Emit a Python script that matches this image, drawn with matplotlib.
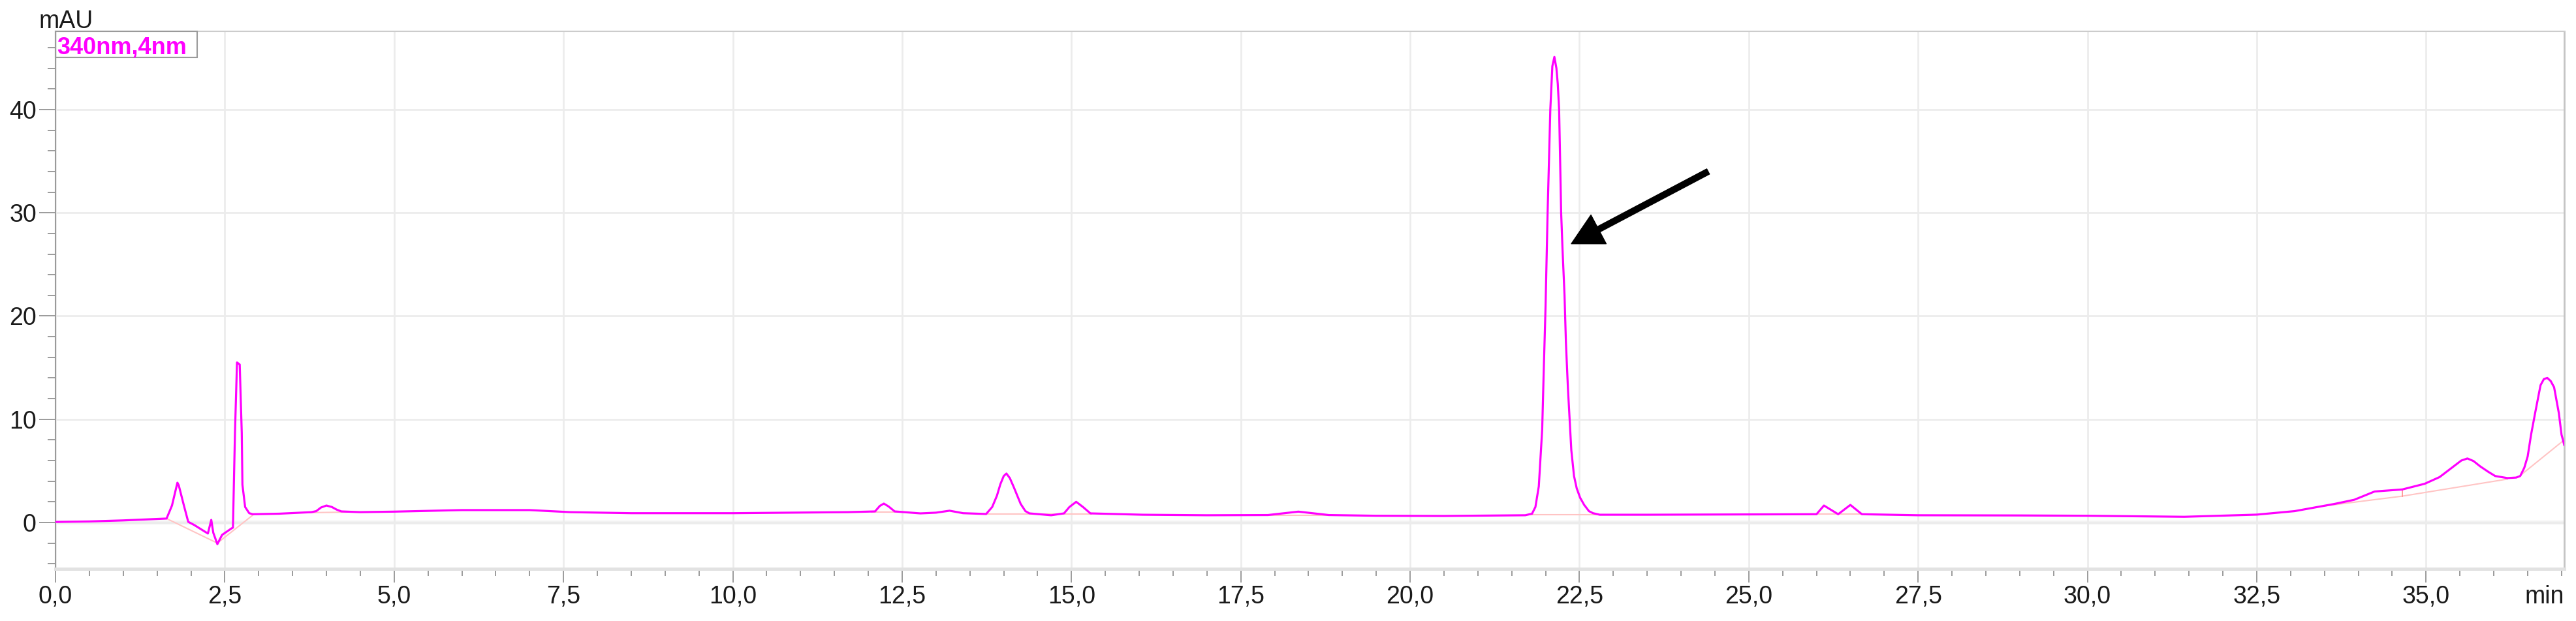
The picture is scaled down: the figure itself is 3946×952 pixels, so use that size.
import matplotlib.pyplot as plt
from matplotlib.patches import Rectangle
from matplotlib.ticker import MultipleLocator, FuncFormatter

plt.rcParams['font.family'] = ['Liberation Sans', 'DejaVu Sans']

# retention time (min) and signal (mAU)
t = [0.0, 0.5, 1.0, 1.64, 1.72, 1.80, 1.82, 1.90, 1.96, 2.05, 2.25, 2.30, 2.33, 2.39,
     2.46, 2.60, 2.62, 2.65, 2.68, 2.72, 2.75, 2.76, 2.80, 2.86, 2.91, 3.3, 3.78, 3.85,
     3.92, 4.0, 4.08, 4.15, 4.22, 4.5, 5.0, 6.0, 7.0, 7.6, 8.5, 10.0, 11.7, 12.10, 12.17,
     12.23, 12.30, 12.39, 12.77, 13.0, 13.2, 13.4, 13.74, 13.83, 13.90, 13.95, 14.00,
     14.04, 14.09, 14.15, 14.25, 14.32, 14.38, 14.7, 14.89, 14.97, 15.07, 15.17, 15.28,
     16.05, 17.0, 17.9, 18.35, 18.8, 19.5, 20.5, 21.70, 21.80, 21.85, 21.90, 21.95,
     21.97, 22.00, 22.03, 22.05, 22.07, 22.10, 22.13, 22.16, 22.18, 22.20, 22.23, 22.25,
     22.28, 22.30, 22.33, 22.38, 22.42, 22.46, 22.51, 22.57, 22.64, 22.70, 22.80, 23.5,
     25.0, 26.0, 26.11, 26.32, 26.50, 26.67, 27.5, 29.0, 30.0, 31.43, 32.5, 33.06,
     33.65, 33.94, 34.24, 34.65, 34.98, 35.2, 35.32, 35.43, 35.52, 35.61, 35.70, 35.80,
     35.92, 36.02, 36.2, 36.33, 36.39, 36.45, 36.5, 36.55, 36.61, 36.69, 36.74, 36.79,
     36.84, 36.89, 36.96, 37.0, 37.04]
mau = [0.05, 0.1, 0.2, 0.38, 1.64, 3.85, 3.6, 1.54, 0.06, -0.25, -1.07, 0.25, -1.0, -2.1,
       -1.2, -0.57, -0.5, 8.7, 15.5, 15.3, 8.7, 3.66, 1.5, 0.9, 0.8, 0.85, 1.0, 1.1,
       1.45, 1.64, 1.5, 1.25, 1.07, 1.0, 1.05, 1.2, 1.2, 1.0, 0.9, 0.9, 1.0, 1.07, 1.6,
       1.83, 1.55, 1.07, 0.88, 0.95, 1.14, 0.9, 0.82, 1.5, 2.6, 3.7, 4.5,
       4.74, 4.3, 3.4, 1.8, 1.1, 0.88, 0.7, 0.88, 1.5, 2.0, 1.5, 0.88,
       0.75, 0.7, 0.72, 1.05, 0.72, 0.65, 0.63, 0.7, 0.85, 1.5, 3.5, 9.0,
       14.0, 21.0, 30.0, 35.0, 40.0, 44.2, 45.1, 44.0, 42.5, 40.0, 30.0, 26.5,
       22.0, 17.5, 13.0, 7.0, 4.5, 3.3, 2.4, 1.7, 1.1, 0.9, 0.75, 0.75,
       0.78, 0.8, 1.64, 0.8, 1.7, 0.8, 0.7, 0.68, 0.65, 0.55, 0.76, 1.1,
       1.8, 2.2, 3.0, 3.2, 3.75, 4.4, 5.0, 5.55, 6.0, 6.2, 5.95, 5.43,
       4.9, 4.5, 4.3, 4.35, 4.5, 5.3, 6.4, 8.5, 10.6, 13.3, 13.9, 14.0,
       13.7, 13.1, 10.6, 8.5, 7.5]

# integration baselines (pink)
base_t = [[1.64, 2.39, 2.93], [3.75, 4.3], [12.05, 12.45], [13.7, 15.3],
          [17.9, 18.8], [21.78, 22.85], [26.0, 26.67], [33.5, 34.65, 36.2], [36.4, 37.04]]
base_y = [[0.38, -2.0, 0.8], [0.95, 1.0], [1.0, 1.0], [0.8, 0.8],
          [0.72, 0.72], [0.75, 0.75], [0.8, 0.8], [1.6, 2.55, 4.2], [4.6, 8.0]]
drop_t = [34.65, 34.65]
drop_y = [2.55, 3.2]

arrow_tip = (22.38, 27.0)
arrow_tail = (24.40, 34.0)

fig = plt.figure(figsize=(39.46, 9.52), dpi=100)
ax = fig.add_axes([0.02154, 0.08403, 0.97390, 0.86555])

ax.axhline(0, color='#f2f2f2', lw=4.3, zorder=0.5)
for bt, by in zip(base_t, base_y):
    ax.plot(bt, by, color='#ffc4c4', lw=1.5, zorder=2)
ax.plot(drop_t, drop_y, color='#ff8a8a', lw=1.2, zorder=2)
ax.plot(t, mau, color='#ff00ff', lw=2.3, zorder=3, solid_joinstyle='round')

ax.annotate('', xy=arrow_tip, xytext=arrow_tail,
            arrowprops=dict(facecolor='black', edgecolor='black', width=6.5,
                            headwidth=36, headlength=34, shrink=0))

ax.set_xlim(0, 37.04)
ax.set_ylim(-4.49, 47.58)

ax.xaxis.set_major_locator(MultipleLocator(2.5))
ax.xaxis.set_minor_locator(MultipleLocator(0.5))
ax.yaxis.set_major_locator(MultipleLocator(10))
ax.yaxis.set_minor_locator(MultipleLocator(2))
ax.xaxis.set_major_formatter(FuncFormatter(lambda v, p: '' if v > 35.1 else ('%.1f' % v).replace('.', ',')))
ax.yaxis.set_major_formatter(FuncFormatter(lambda v, p: '%d' % v))

ax.grid(True, which='major', color='#ececec', lw=2)
ax.set_axisbelow(True)

ax.tick_params(axis='x', which='major', length=15, width=1.2, color='#8a8a8a', labelsize=27, pad=3, labelcolor='#1a1a1a')
ax.tick_params(axis='x', which='minor', length=8, width=1.2, color='#8a8a8a')
ax.tick_params(axis='y', which='major', length=18, width=1.2, color='#8a8a8a', labelsize=27, pad=3, labelcolor='#1a1a1a')
ax.tick_params(axis='y', which='minor', length=9, width=1.2, color='#8a8a8a')

ax.spines['bottom'].set_color('#e2e2e2')
ax.spines['bottom'].set_linewidth(3.6)
ax.spines['left'].set_color('#9a9a9a')
ax.spines['left'].set_linewidth(1.5)
ax.spines['top'].set_color('#cccccc')
ax.spines['top'].set_linewidth(1.5)
ax.spines['right'].set_color('#c4c4c4')
ax.spines['right'].set_linewidth(2)

ax.add_patch(Rectangle((0.0, 0.9515), 0.0565, 0.0485, transform=ax.transAxes,
                       fill=False, edgecolor='#9a9a9a', lw=1.5, clip_on=False, zorder=5))
ax.text(0.0005, 0.9587, '340nm,4nm', transform=ax.transAxes, color='#ff00ff',
        fontsize=26, fontweight='bold', va='baseline', ha='left', zorder=6)

fig.text(0.0152, 0.9548, 'mAU', fontsize=27, color='#1a1a1a', va='baseline', ha='left')
ax.annotate('min', xy=(1, 0), xycoords='axes fraction', xytext=(0, -18),
            textcoords='offset points', fontsize=27, color='#1a1a1a', va='top', ha='right')

fig.savefig('out.png', dpi=100)
